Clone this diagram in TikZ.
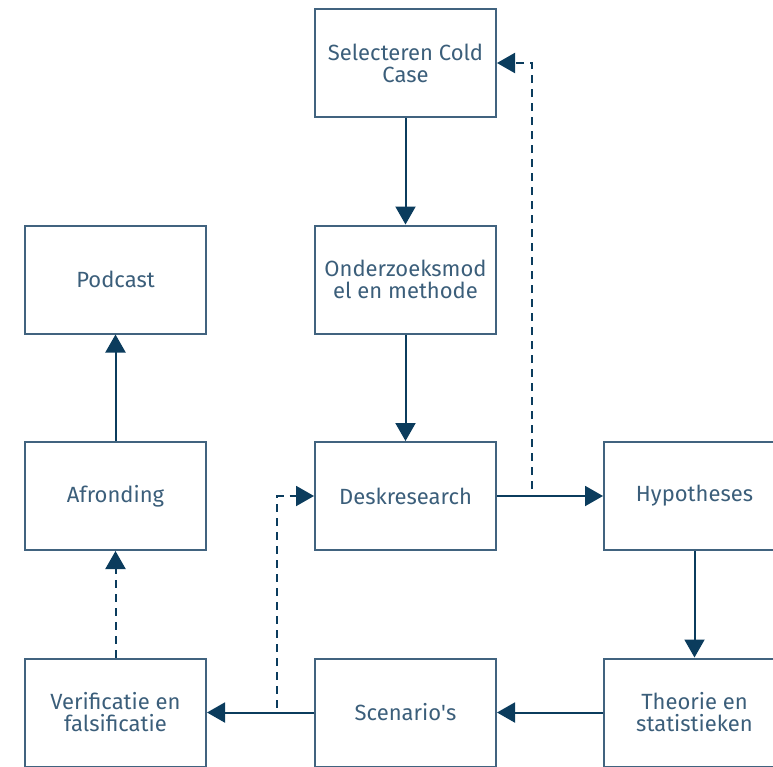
\documentclass[tikz,border=0pt]{standalone}
\usepackage{fontspec}
\setmainfont{Fira Sans}
\usetikzlibrary{arrows.meta}

\definecolor{boxline}{HTML}{41637F}
\definecolor{boxtext}{HTML}{3B5E7A}
\definecolor{arrowcol}{HTML}{0B3C5D}

\begin{document}
\begin{tikzpicture}[x=1pt,y=-1pt,
  every node/.style={rectangle,draw=boxline,line width=2pt,minimum width=181pt,minimum height=108pt,
    inner sep=0pt,align=center,text=boxtext,font=\fontsize{22}{22}\selectfont},
  flow/.style={draw=arrowcol,line width=2pt,-{Triangle[length=18pt,width=20pt]}},
  flowdash/.style={flow,dash pattern=on 8pt off 6pt}]
\useasboundingbox (0,0) rectangle (773,766);
\foreach \name/\x/\y/\lab in {sel/405.5/63/{Selecteren Cold\\Case},ond/405.5/279.5/{Onderzoeksmod\\el en methode},
  desk/405.5/496/Deskresearch,hyp/694.5/496/Hypotheses,pod/115.5/279.5/Podcast,afr/115.5/496/Afronding,
  ver/115.5/712.5/{Verificatie en\\falsificatie},scen/405.5/712.5/Scenario\textquotesingle s,theo/694.5/712.5/{Theorie en\\statistieken}} {
  \node (\name) at (\x,\y) {\lab};
}
% vaste stappen
\foreach \a/\b in {sel/ond,ond/desk,desk/hyp,hyp/theo,theo/scen,scen/ver,afr/pod}
  \draw[flow] (\a) -- (\b);
% terugkoppeling
\draw[flowdash] (desk.east) -- ++(35,0) |- (sel.east);
\draw[flowdash] (scen.west) -- ++(-37,0) |- (desk.west);
\draw[flowdash] (ver) -- (afr);
\end{tikzpicture}
\end{document}
